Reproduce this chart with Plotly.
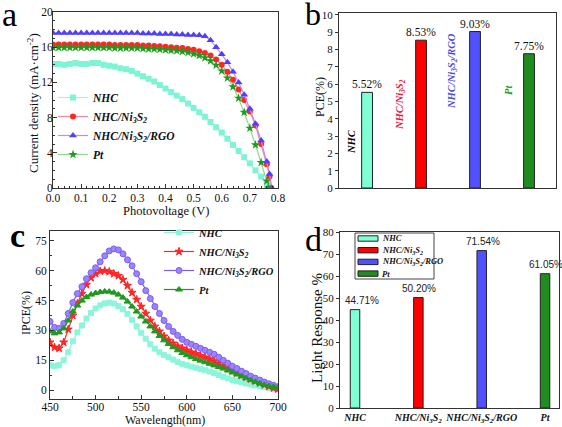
import plotly.graph_objects as go

W, H = 562, 427
SERIF = "Liberation Serif"
SANS = "Liberation Sans"

# ---------------- data ----------------
NAMES = ["NHC", "NHC/Ni3S2", "NHC/Ni3S2/RGO", "Pt"]
NAMES_HTML = ["NHC", "NHC/Ni<sub>3</sub>S<sub>2</sub>",
              "NHC/Ni<sub>3</sub>S<sub>2</sub>/RGO", "Pt"]

# (a) J-V curves: voltage (V) and current density (mA cm^-2)
V = [round(0.02 * i, 2) for i in range(39)]  # 0.00 ... 0.76
V_NHC = V + [0.77]
J_NHC = [14.1, 14.1, 14.0, 14.1, 14.2, 14.1, 14.1, 14.2, 14.2, 14.0,
         13.9, 13.8, 13.6, 13.5, 13.3, 13.0, 12.7, 12.4, 12.1, 11.7,
         11.3, 10.9, 10.5, 10.1, 9.6, 9.1, 8.6, 8.1, 7.5, 6.9,
         6.3, 5.6, 4.9, 4.2, 3.5, 2.8, 2.0, 1.3, 0.5, 0.0]
V_NI = V + [0.77, 0.776]
J_NI = [16.3, 16.3, 16.3, 16.3, 16.3, 16.3, 16.3, 16.3, 16.3, 16.3,
        16.3, 16.25, 16.25, 16.25, 16.25, 16.25, 16.2, 16.2, 16.15, 16.1,
        16.05, 16.0, 15.95, 15.9, 15.8, 15.7, 15.55, 15.35, 15.05, 14.6,
        14.0, 13.2, 12.3, 11.2, 10.0, 8.7, 7.1, 5.0, 2.7, 1.3, 0.0]
V_RGO = V + [0.77, 0.778]
J_RGO = [17.6, 17.6, 17.6, 17.6, 17.6, 17.6, 17.6, 17.6, 17.6, 17.6,
         17.6, 17.6, 17.6, 17.6, 17.6, 17.6, 17.55, 17.55, 17.55, 17.5,
         17.5, 17.5, 17.45, 17.45, 17.4, 17.4, 17.35, 17.25, 16.8, 16.0,
         15.2, 14.3, 13.2, 12.0, 10.6, 9.0, 7.3, 5.4, 3.0, 1.6, 0.0]
V_PT = V + [0.765]
J_PT = [15.95, 15.95, 15.95, 15.95, 15.95, 15.95, 15.95, 15.95, 15.95, 15.95,
        15.95, 15.9, 15.9, 15.9, 15.9, 15.9, 15.85, 15.8, 15.8, 15.75,
        15.7, 15.65, 15.6, 15.5, 15.4, 15.25, 15.05, 14.8, 14.45, 13.95,
        13.3, 12.5, 11.5, 10.2, 8.6, 6.8, 4.9, 2.9, 0.8, 0.0]

# (b) PCE (%)
PCE = [5.52, 8.53, 9.03, 7.75]

# (c) IPCE spectra
WL = list(range(450, 701, 5))
IPCE_NHC = [12.5, 12.0, 12.5, 15.0, 19.0, 24.5, 29.0, 32.5, 36.0, 38.8,
            41.0, 42.6, 43.6, 44.0, 43.5, 42.3, 40.6, 38.2, 35.3, 32.0,
            28.8, 25.8, 23.0, 20.8, 19.0, 17.6, 16.5, 15.3, 14.2, 13.2,
            12.5, 11.8, 11.2, 10.5, 10.0, 9.3, 8.5, 7.6, 6.7, 5.9,
            5.1, 4.5, 3.9, 3.3, 2.8, 2.3, 1.9, 1.5, 1.1, 0.8, 0.6]
IPCE_NI = [24.0, 21.5, 21.0, 24.0, 30.5, 37.5, 43.5, 48.5, 53.0, 56.5,
           58.5, 59.8, 60.0, 59.5, 58.5, 57.5, 55.5, 52.5, 49.0, 45.5,
           42.0, 38.5, 35.0, 32.0, 29.5, 27.0, 25.0, 23.5, 22.0, 21.0,
           20.0, 19.0, 18.2, 17.3, 16.5, 15.6, 14.6, 13.5, 12.3, 11.0,
           9.8, 8.6, 7.5, 6.5, 5.5, 4.5, 3.5, 2.6, 1.8, 1.0, 0.5]
IPCE_RGO = [34.5, 31.5, 31.0, 33.5, 38.5, 44.0, 48.5, 52.0, 56.0, 59.0,
            61.5, 64.5, 67.5, 70.0, 71.0, 70.5, 68.5, 65.5, 62.5, 58.5,
            54.5, 50.0, 46.0, 42.0, 38.5, 35.0, 32.0, 29.5, 27.5, 25.5,
            24.0, 23.0, 22.0, 21.0, 20.0, 19.0, 18.0, 16.5, 15.0, 13.5,
            12.0, 10.8, 9.5, 8.3, 7.0, 6.0, 5.0, 4.0, 3.2, 2.4, 1.7]
IPCE_PT = [29.5, 28.5, 29.0, 31.0, 35.0, 39.5, 42.5, 45.0, 46.8, 48.0,
           48.8, 49.3, 49.6, 49.5, 49.0, 48.0, 46.5, 44.5, 42.0, 39.5,
           37.0, 34.5, 32.0, 29.5, 27.2, 25.0, 23.2, 21.5, 20.0, 18.6,
           17.5, 16.5, 15.6, 14.8, 14.0, 13.2, 12.4, 11.6, 10.8, 9.8,
           8.8, 7.8, 6.8, 5.9, 5.0, 4.2, 3.4, 2.7, 2.1, 1.6, 1.2]

# (d) light response (%)
LIGHT = [44.71, 50.20, 71.54, 61.05]

# ---------------- styles ----------------
C_CYAN = "#7DF5D5"
C_RED = "#FF2626"
C_BLUE = "#4F3FFF"
C_PURP = "#7E5CF5"
C_GREEN = "#1F9A1F"
BAR_COLORS = ["#7FFFD4", "#FF0000", "#5151FF", "#1E8C1E"]
TEXT_COLORS = ["#000000", "#E8163C", "#4B4BE0", "#1A9A1A"]


def px(x):
    return x / W


def py(y):
    return 1 - y / H


fig = go.Figure()

# ---- (a) ----
a_series = [
    (V_NHC, J_NHC, C_CYAN, "#9FF7E2", "square", 6),
    (V_NI, J_NI, C_RED, "#F08AA0", "circle", 6),
    (V_RGO, J_RGO, C_BLUE, "#C58BE6", "triangle-up", 7),
    (V_PT, J_PT, C_GREEN, "#8FD88F", "star", 7),
]
for (xv, yv, mc, lc, sym, ms), nm in zip(a_series, NAMES_HTML):
    fig.add_trace(go.Scatter(
        x=xv, y=yv, mode="lines+markers", name=nm,
        line=dict(color=lc, width=1.2),
        marker=dict(symbol=sym, size=ms, color=mc, line=dict(width=0)),
        xaxis="x", yaxis="y", legend="legend"))

# ---- (b) ----
for i, (v, c) in enumerate(zip(PCE, BAR_COLORS)):
    fig.add_trace(go.Bar(
        x=[i], y=[v], width=0.2, marker=dict(color=c, line=dict(color="#222", width=1)),
        xaxis="x2", yaxis="y2", showlegend=False))

# ---- (c) ----
c_series = [
    (IPCE_NHC, "#8CF5DB", "#8CF5DB", "square", 5),
    (IPCE_NI, C_RED, C_RED, "star", 6),
    (IPCE_RGO, "#9A84FF", C_PURP, "circle", 6),
    (IPCE_PT, C_GREEN, C_GREEN, "triangle-up", 6),
]
for (yv, mc, lc, sym, ms), nm in zip(c_series, NAMES_HTML):
    fig.add_trace(go.Scatter(
        x=WL, y=yv, mode="lines+markers", name=nm,
        line=dict(color=lc, width=1.2),
        marker=dict(symbol=sym, size=ms, color=mc, line=dict(width=1, color=lc)),
        xaxis="x3", yaxis="y3", legend="legend2"))

# ---- (d) ----
for i, (v, c) in enumerate(zip(LIGHT, BAR_COLORS)):
    fig.add_trace(go.Bar(
        x=[i], y=[v], width=0.15, marker=dict(color=c, line=dict(color="#222", width=1)),
        xaxis="x4", yaxis="y4", showlegend=False))

ann = []
# panel letters
for t, x, y, s, bold in [("a", 9, 14, 34, False), ("b", 313, 14, 32, False),
                         ("c", 17, 236, 34, True), ("d", 313, 240, 34, False)]:
    ann.append(dict(text=("<b>%s</b>" % t) if bold else t, x=px(x), y=py(y),
                    xref="paper", yref="paper", showarrow=False,
                    xanchor="center", yanchor="middle",
                    font=dict(family=SERIF, size=s, color="black")))


# axis titles
def title(text, x, y, size, angle=0):
    ann.append(dict(text=text, x=px(x), y=py(y), xref="paper", yref="paper",
                    showarrow=False, textangle=angle, xanchor="center", yanchor="middle",
                    font=dict(family=SERIF, size=size, color="#111")))


title("Current density (mA·cm<sup>-2</sup>)", 33, 103, 13, -90)
title("Photovoltage (V)", 166, 211, 12.5)
title("PCE(%)", 320, 97, 12, -90)
title("IPCE(%)", 26, 313, 12, -90)
title("Wavelength(nm)", 165, 420, 12)
title("Light Response %", 317, 328, 15, -90)

# (b) rotated sample names
for i, (nm, col, xpx, ypx) in enumerate(zip(NAMES_HTML, TEXT_COLORS,
                                            [352, 400, 453, 508], [142, 105, 71, 90])):
    ann.append(dict(text="<b><i>%s</i></b>" % nm, x=px(xpx), y=py(ypx),
                    xref="paper", yref="paper", showarrow=False, textangle=-90,
                    xanchor="center", yanchor="middle",
                    font=dict(family=SERIF, size=10.5, color=col)))

# (b) value labels
for i, v in enumerate(PCE):
    ann.append(dict(text="%.2f%%" % v, x=i, y=v, xref="x2", yref="y2",
                    showarrow=False, xanchor="center", yanchor="bottom", yshift=0,
                    font=dict(family=SERIF, size=11.5, color="#111")))

# (d) value labels
for i, v in enumerate(LIGHT):
    ann.append(dict(text="%.2f%%" % v, x=i, y=v, xref="x4", yref="y4",
                    showarrow=False, xanchor="center", yanchor="bottom", yshift=2,
                    xshift=7 if i == 0 else 1,
                    font=dict(family=SANS, size=10, color="#222")))

# (d) legend (boxed, compact)
shapes = [dict(type="rect", xref="paper", yref="paper",
               x0=px(355), x1=px(434), y0=py(279), y1=py(233),
               line=dict(color="#444", width=1), fillcolor="rgba(0,0,0,0)")]
for i, (nm, c) in enumerate(zip(NAMES_HTML, BAR_COLORS)):
    yc = 238.5 + i * 11.7
    shapes.append(dict(type="rect", xref="paper", yref="paper",
                       x0=px(358), x1=px(378), y0=py(yc + 2.7), y1=py(yc - 2.7),
                       line=dict(color="#222", width=1), fillcolor=c))
    ann.append(dict(text="<b><i>%s</i></b>" % nm, x=px(380), y=py(yc),
                    xref="paper", yref="paper", showarrow=False,
                    xanchor="left", yanchor="middle",
                    font=dict(family=SERIF, size=8.5, color="#111")))

axis_common = dict(showline=True, linecolor="#333", linewidth=1, mirror=True,
                   showgrid=False, zeroline=False, automargin=False)
TF = dict(family=SERIF, size=11.5, color="#111")

fig.update_layout(
    width=W, height=H, margin=dict(l=0, r=0, t=0, b=0, autoexpand=False),
    paper_bgcolor="white", plot_bgcolor="white", barmode="overlay",
    xaxis=dict(domain=[px(53), px(278)], range=[0, 0.8], dtick=0.1, tickformat=".1f",
               ticks="inside", ticklen=4, tickcolor="#333", tickfont=TF,
               ticklabelstandoff=-1,
               minor=dict(ticks="inside", ticklen=2, dtick=0.02, tickcolor="#333"),
               anchor="y", **axis_common),
    yaxis=dict(domain=[py(188), py(12)], range=[0, 20], dtick=4,
               ticks="inside", ticklen=4, tickcolor="#333", tickfont=TF,
               ticklabelstandoff=-3,
               minor=dict(ticks="inside", ticklen=2, dtick=1, tickcolor="#333"),
               anchor="x", **axis_common),
    xaxis2=dict(domain=[px(339), px(556)], range=[-0.52, 3.5], showticklabels=False,
                ticks="", anchor="y2", **axis_common),
    yaxis2=dict(domain=[py(188), py(13)], range=[0, 10.1], dtick=1,
                ticks="outside", ticklen=3, tickcolor="#333",
                tickfont=dict(family=SERIF, size=11, color="#111"),
                anchor="x2", **axis_common),
    xaxis3=dict(domain=[px(50), px(278)], range=[450, 700], dtick=50,
                ticks="inside", ticklen=4, tickcolor="#333", tickfont=TF,
                ticklabelstandoff=-3,
                minor=dict(ticks="inside", ticklen=3, dtick=25, tickcolor="#333"),
                anchor="y3", **axis_common),
    yaxis3=dict(domain=[py(399), py(231)], range=[-4.5, 80], dtick=15, tick0=0,
                ticks="inside", ticklen=4, tickcolor="#333", tickfont=TF,
                ticklabelstandoff=0,
                minor=dict(ticks="inside", ticklen=2, dtick=7.5, tickcolor="#333"),
                anchor="x3", **axis_common),
    xaxis4=dict(domain=[px(340), px(559)], range=[-0.237, 3.22],
                tickvals=[0, 1, 2, 3], tickangle=0,
                ticktext=["<b><i>%s</i></b>" % n for n in NAMES_HTML],
                ticks="", anchor="y4",
                tickfont=dict(family=SERIF, size=10, color="#111"), **axis_common),
    yaxis4=dict(domain=[py(408), py(232)], range=[0, 80], dtick=10,
                ticks="outside", ticklen=3, tickcolor="#333",
                tickfont=dict(family=SERIF, size=11, color="#111"),
                anchor="x4", **axis_common),
    legend=dict(x=px(53), y=py(83), xanchor="left", yanchor="top",
                bgcolor="rgba(0,0,0,0)", borderwidth=0,
                font=dict(family=SERIF, size=11.5, color="#111", style="italic", weight="bold")),
    legend2=dict(x=px(159), y=py(218), xanchor="left", yanchor="top",
                 bgcolor="rgba(0,0,0,0)", borderwidth=0,
                 font=dict(family=SERIF, size=10.5, color="#111", style="italic", weight="bold")),
    annotations=ann, shapes=shapes,
)

fig.write_html("out.html", config={"displayModeBar": False},
               post_script="document.body.style.margin='0';document.body.style.padding='0';")
